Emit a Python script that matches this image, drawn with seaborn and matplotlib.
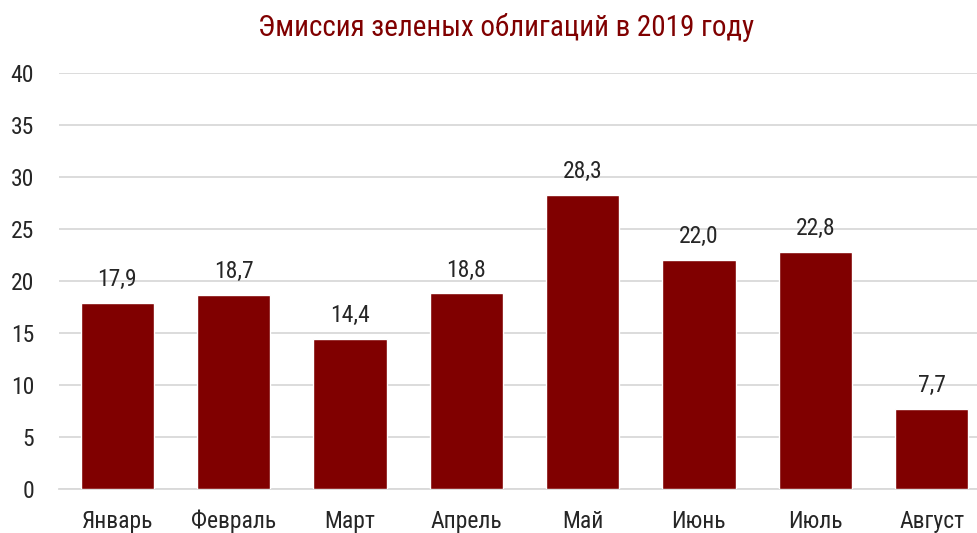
import matplotlib
matplotlib.use("Agg")
import matplotlib.pyplot as plt
import seaborn as sns
import pandas as pd

months = ["Январь", "Февраль", "Март", "Апрель", "Май", "Июнь", "Июль", "Август"]
values = [17.9, 18.7, 14.4, 18.8, 28.3, 22.0, 22.8, 7.7]
yticks = [0, 5, 10, 15, 20, 25, 30, 35, 40]
title = "Эмиссия зеленых облигаций в 2019 году"

sns.set_style("white")
plt.rcParams['font.family'] = ['Roboto Condensed', 'PT Sans Narrow', 'Liberation Sans', 'DejaVu Sans']

df = pd.DataFrame({"month": months, "value": values})
fig = plt.figure(figsize=(9.77, 5.33), dpi=100)
ax = fig.add_axes([0.0604, 0.0826, 0.9396, 0.7804])
sns.barplot(data=df, x="month", y="value", color="#800000", saturation=1, width=0.63, ax=ax, zorder=3)

ax.set_xlim(-0.5, 7.39)
ax.set_ylim(0, 40)
ax.set_yticks(yticks)
ax.set_yticklabels([str(t) for t in yticks], fontsize=17, color="#262626")
ax.tick_params(axis="x", labelsize=17, colors="#262626", length=0, pad=15)
ax.tick_params(axis="y", length=0, pad=18)
ax.grid(axis="y", color="#d9d9d9", linewidth=1.3, zorder=0)
ax.set_xlabel("")
ax.set_ylabel("")
for s in ["top", "right", "left"]:
    ax.spines[s].set_visible(False)
ax.spines["bottom"].set_color("#d9d9d9")
ax.spines["bottom"].set_linewidth(1.3)

for i, v in enumerate(values):
    ax.text(i, v + 1.15, f"{v:.1f}".replace(".", ","), ha="center", va="bottom", fontsize=17, color="#262626")

fig.text(0.518, 0.948, title, ha="center", va="center", fontsize=21, color="#800000")
fig.savefig("out.png", dpi=100)
